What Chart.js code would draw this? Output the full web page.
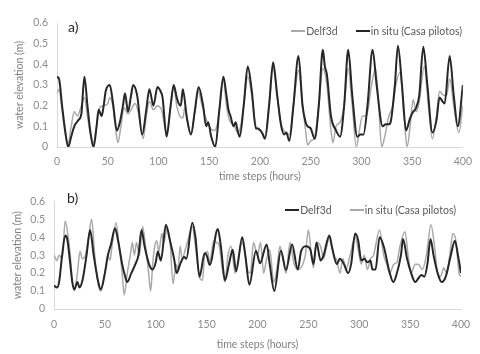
<!DOCTYPE html>
<html>
<head>
<meta charset="utf-8">
<script src="https://cdn.jsdelivr.net/npm/chart.js@4.4.0/dist/chart.umd.min.js"></script>
<style>
  body { margin: 0; background: #fff; width: 480px; height: 354px; overflow: hidden; position: relative; font-family: Lato, sans-serif; }
  canvas { position: absolute; left: 0; }
  #ca { top: 0; }
  #cb { top: 186px; }
  .tag { position: absolute; font-size: 14px; color: #262626; }
  .legend { position: absolute; display: flex; align-items: center; font-size: 10.5px; color: #595959; white-space: nowrap; }
  .legend .item { display: flex; align-items: center; margin-left: 18px; }
  .legend .swatch { display: inline-block; width: 14px; margin-right: 1px; }
</style>
</head>
<body>
<canvas id="ca" width="480" height="186"></canvas>
<canvas id="cb" width="480" height="168"></canvas>
<div class="tag" style="left:68px; top:18px;">a)</div>
<div class="tag" style="left:67px; top:189px;">b)</div>
<div class="legend" id="la" style="right:18px; top:25px;"></div>
<div class="legend" id="lb" style="right:24px; top:204px;"></div>
<script>
// ---- panel a) ----
const aInSituT = [0,2,5,8,11,14,17,21,24,27,30,33,36,39,41,44,46,48,52,55,59,62,65,67,70,73,75,79,84,88,91,95,99,102,104,108,112,115,118,120,122,124,128,132,136,139.5,144,147,149,152,156,160,164,167,169,171,174,176,178,180,184,188,192,196,198,202,205,209,213,217,221,224,226,229,233,238,242,245,247,250,254,258,262,264,266,270,275,279,283,287,291,296,299,302,306,311,315,321,324,327,329,333,336,340,344,348,351,354,357,361,365,370,374,377,380,382,387,391,395,400];
const aInSitu = [0.34,0.33,0.2,0.08,0.0,0.05,0.1,0.13,0.16,0.34,0.2,0.07,0.0,0.1,0.18,0.15,0.2,0.27,0.3,0.22,0.08,0.12,0.2,0.26,0.17,0.25,0.3,0.25,0.06,0.18,0.28,0.2,0.29,0.27,0.24,0.05,0.2,0.3,0.24,0.21,0.2,0.28,0.14,0.06,0.18,0.29,0.2,0.1,0.12,0.05,0.0,0.18,0.34,0.25,0.18,0.15,0.1,0.12,0.08,0.05,0.2,0.39,0.27,0.09,0.09,0.07,0.04,0.2,0.41,0.25,0.1,0.06,0.07,0.03,0.2,0.44,0.2,0.12,0.1,0.09,0.04,0.2,0.47,0.39,0.35,0.15,0.08,0.05,0.2,0.47,0.25,0.05,0.06,0.06,0.2,0.47,0.3,0.1,0.11,0.11,0.125,0.3,0.49,0.3,0.08,0.14,0.17,0.19,0.25,0.485,0.3,0.07,0.13,0.24,0.22,0.21,0.44,0.25,0.1,0.3];

const aDelftT = [0,2,5,8,11,14,17,20,24,27,30,33,36,39,42,46,50,52,55,58,60,63,66,70,73,75,77,80,85,88,91,95,99,103,108,112,115,118,121,124,126,129,132,136,139,143,146,150,155,158,161,164,167,170,175,178,181,184,188,192,196,200,205,209,213,217,220,225,229,233,238,242,245,247,250,254,258,262,266,270,272,275,279,283,287,291,295,298,301,305,310,314,317,320,323,327,331,334,338,342,345,348,351,354,357,362,366,370,374,377,381,384,387,391,396,400];
const aDelft = [0.26,0.28,0.18,0.07,0.02,0.1,0.17,0.15,0.2,0.24,0.15,0.06,0.02,0.1,0.19,0.2,0.21,0.24,0.2,0.08,0.02,0.1,0.19,0.16,0.18,0.2,0.21,0.17,0.04,0.15,0.22,0.18,0.2,0.18,0.07,0.2,0.29,0.2,0.15,0.14,0.19,0.12,0.06,0.18,0.27,0.2,0.15,0.1,0.08,0.11,0.22,0.33,0.2,0.13,0.1,0.07,0.1,0.2,0.34,0.25,0.1,0.08,0.05,0.2,0.38,0.25,0.13,0.07,0.06,0.2,0.37,0.2,0.08,0.01,0.03,0.05,0.2,0.38,0.3,0.08,0.02,0.1,0.12,0.2,0.38,0.2,0.0,0.08,0.15,0.15,0.3,0.38,0.2,0.0,0.05,0.15,0.2,0.3,0.36,0.15,0.0,0.1,0.23,0.17,0.22,0.39,0.2,0.04,0.15,0.27,0.25,0.25,0.33,0.2,0.07,0.2];

// ---- panel b) ----
const bDelftT = [0,3,5,8,11,13,16,18,20,23,25,28,32,35.5,39,43.5,46,50,53,56,60,63,67,70,72,76,80,83,86,89,94,97,100,102,105,110,114,118,120.5,124,128,130,136,139,143,148,150,153,161,164,168,172,175.6,179,185,188,192,198.5,202.5,209,212,216.5,223,228,234,239.5,243,248,252,255,258,262,265,270.6,273,278,281,285,289,292,296,299,302,305,308,311,313,316,320,324,330,333.5,336,341,343,347,351,355,358,361,364,367,370,373,377,381,385,390,394,397,400];
const bDelft = [0.13,0.12,0.15,0.3,0.41,0.39,0.25,0.15,0.11,0.15,0.12,0.16,0.3,0.44,0.3,0.15,0.11,0.2,0.3,0.36,0.45,0.38,0.25,0.18,0.15,0.2,0.25,0.3,0.44,0.35,0.24,0.22,0.26,0.32,0.27,0.47,0.38,0.28,0.2,0.25,0.29,0.28,0.48,0.4,0.18,0.31,0.3,0.245,0.445,0.35,0.16,0.25,0.33,0.21,0.4,0.3,0.135,0.325,0.255,0.36,0.25,0.1,0.325,0.217,0.36,0.22,0.325,0.35,0.33,0.25,0.37,0.27,0.3,0.41,0.35,0.25,0.28,0.25,0.2,0.25,0.42,0.38,0.27,0.28,0.26,0.27,0.22,0.22,0.4,0.35,0.2,0.15,0.18,0.3,0.39,0.28,0.2,0.15,0.17,0.19,0.18,0.25,0.39,0.3,0.2,0.15,0.18,0.3,0.38,0.3,0.2];

const bInSituT = [0,3,5,8,11,14,16,18,20,23,25.5,28,31,34,37,40,44,46,50,53,55,57,61,64,67,69,72,75,77,79,81,84,87,90,93,95,97,99,101,103,106,108,111,114,117,120,122,124,126,129,131,136,139,143.5,146,148,151,153,157,160,162,166,168,171,174,178,181,185,188,190,193,196,200,203,206,209,212,216,219,222,225,228,232,236,240,247,250,253,255,258,262,265,268,271,275,278,281,284,287,291,296,299,302,305,308,311,314,320,324,327,330,334,337,340,345,348,351,355,358,362,366,370.5,374,377,380,383,386,389,392,395,398,400];
const bInSitu = [0.3,0.27,0.3,0.28,0.49,0.4,0.3,0.15,0.1,0.2,0.32,0.28,0.3,0.4,0.5,0.3,0.12,0.1,0.2,0.3,0.27,0.35,0.48,0.35,0.2,0.08,0.2,0.3,0.37,0.3,0.37,0.3,0.46,0.35,0.2,0.1,0.25,0.35,0.38,0.32,0.42,0.37,0.45,0.38,0.14,0.25,0.22,0.35,0.28,0.33,0.37,0.46,0.35,0.17,0.16,0.3,0.32,0.26,0.38,0.37,0.36,0.2,0.15,0.3,0.35,0.2,0.28,0.37,0.3,0.22,0.2,0.37,0.3,0.37,0.2,0.28,0.33,0.15,0.22,0.35,0.28,0.2,0.37,0.25,0.22,0.3,0.44,0.3,0.23,0.37,0.35,0.28,0.35,0.4,0.3,0.27,0.2,0.28,0.22,0.3,0.4,0.33,0.25,0.3,0.22,0.28,0.3,0.44,0.3,0.25,0.2,0.25,0.26,0.35,0.43,0.3,0.2,0.25,0.25,0.22,0.3,0.47,0.35,0.2,0.18,0.23,0.2,0.3,0.42,0.38,0.2,0.18];

const xTicksMax = 400;
const yTicksMax = 0.6;

const BLACK = '#262626';
const GRAY = '#a9a9a9';
const FONT = { family: 'Lato', size: 10.5 };

function pairs(ts, vs) {
  return ts.map((t, i) => ({ x: t, y: vs[i] }));
}

function line(label, ts, vs, colour, width) {
  return {
    label,
    data: pairs(ts, vs),
    borderColor: colour,
    backgroundColor: colour,
    borderWidth: width,
    pointRadius: 0,
    cubicInterpolationMode: 'monotone',
  };
}

function options(yWidth, xHeight, pad, titlePadY, titlePadX, tickPadX) {
  return {
    responsive: false,
    animation: false,
    layout: { padding: pad },
    plugins: { legend: { display: false }, tooltip: { enabled: false } },
    scales: {
      x: {
        type: 'linear',
        min: 0,
        max: xTicksMax,
        grid: { display: false, drawTicks: false },
        border: { display: true, color: '#d9d9d9' },
        ticks: { stepSize: 50, color: '#8c8c8c', font: FONT, padding: tickPadX, maxRotation: 0 },
        title: { display: true, text: 'time steps (hours)', color: '#7f7f7f', font: FONT, padding: { top: 0, bottom: titlePadX } },
        afterFit: scale => { scale.height = xHeight; },
      },
      y: {
        min: 0,
        max: yTicksMax,
        grid: { display: false, drawTicks: false },
        border: { display: true, color: '#d9d9d9' },
        ticks: { stepSize: 0.1, color: '#8c8c8c', font: FONT, padding: 9 },
        title: { display: true, text: 'water elevation (m)', color: '#7f7f7f', font: FONT, padding: { top: titlePadY, bottom: 0 } },
        afterFit: scale => { scale.width = yWidth; },
      },
    },
  };
}

function legend(el, datasets, order) {
  order.forEach(i => {
    const ds = datasets[i];
    const item = document.createElement('span');
    item.className = 'item';
    const sw = document.createElement('span');
    sw.className = 'swatch';
    sw.style.height = ds.borderWidth + 'px';
    sw.style.background = ds.borderColor;
    item.appendChild(sw);
    item.appendChild(document.createTextNode(ds.label));
    el.appendChild(item);
  });
}

// in situ first so it is drawn on top of the model line
const dsA = [
  line('in situ (Casa pilotos)', aInSituT, aInSitu, BLACK, 2),
  line('Delf3d', aDelftT, aDelft, GRAY, 1.5),
];
new Chart(document.getElementById('ca'), {
  type: 'line',
  data: { datasets: dsA },
  options: options(57, 39, { top: 23, right: 15, bottom: 0, left: 0 }, 13, 3, 8),
});
legend(document.getElementById('la'), dsA, [1, 0]);

const dsB = [
  line('Delf3d', bDelftT, bDelft, BLACK, 2),
  line('in situ (Casa pilotos)', bInSituT, bInSitu, GRAY, 1.5),
];
new Chart(document.getElementById('cb'), {
  type: 'line',
  data: { datasets: dsB },
  options: options(54, 45, { top: 8, right: 19, bottom: 0, left: 0 }, 11, 3, 9),
});
legend(document.getElementById('lb'), dsB, [0, 1]);
</script>
</body>
</html>
